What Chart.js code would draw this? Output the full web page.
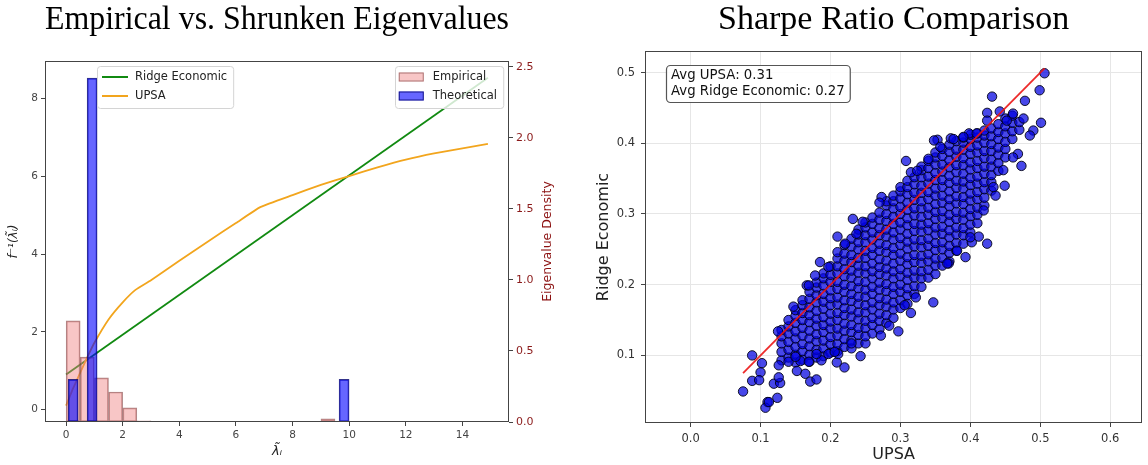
<!DOCTYPE html>
<html>
<head>
<meta charset="utf-8">
<script src="https://cdn.jsdelivr.net/npm/chart.js@4.4.1/dist/chart.umd.min.js"></script>
<style>
  html, body { margin: 0; padding: 0; background: #fff; }
  #wrap { position: relative; width: 1148px; height: 465px; overflow: hidden; }
  #eigBox { position: absolute; left: 0; top: 0; }
  #sharpeBox { position: absolute; left: 578px; top: 0; }
</style>
</head>
<body>
<div id="wrap">
  <div id="eigBox"><canvas id="eig" width="570" height="465"></canvas></div>
  <div id="sharpeBox"><canvas id="sharpe" width="570" height="465"></canvas></div>
</div>
<script>
// ── Left panel: eigenvalue histograms (right axis) + shrinkage curves (left axis) ──
const empiricalBins    = [0.25, 0.75, 1.25, 1.75, 2.25, 2.75, 6.75, 7.75, 8.25, 8.75, 9.25, 10.25, 10.75, 11.25, 11.75, 12.75, 13.25, 13.75, 14.75];
const empiricalDensity = [0.711, 0.457, 0.31, 0.211, 0.099, 0.008, 0.005, 0.005, 0.004, 0.004, 0.022, 0.004, 0.004, 0.004, 0.004, 0.005, 0.005, 0.005, 0.005];
const theoreticalBins    = [0.25, 0.92, 9.82];
const theoreticalDensity = [0.30, 2.42, 0.30];

const ridgeX = [0, 14.9];
const ridgeY = [0.9, 8.54];
const upsaX = [0, 0.25, 0.5, 0.75, 1.0, 1.5, 2.0, 2.45, 3.0, 4.0, 5.0, 6.0, 6.86, 8.0, 9.0, 10.0, 11.0, 12.0, 13.0, 14.0, 14.9];
const upsaY = [0.1, 0.55, 0.95, 1.35, 1.72, 2.32, 2.76, 3.08, 3.33, 3.83, 4.32, 4.8, 5.21, 5.52, 5.78, 6.01, 6.23, 6.43, 6.59, 6.72, 6.84];

// ── Right panel: per-sample Sharpe ratios ──
// dense core, one row per UPSA value: [upsa, ridge, ridge, ...]
const cloudColumns = [
  [0.13, .093, .105, .117, .127, .136],
  [0.14, .097, .108, .119, .131, .141, .150],
  [0.15, .090, .101, .112, .124, .134, .146, .156, .164],
  [0.16, .094, .106, .116, .128, .139, .150, .160, .171, .178],
  [0.17, .091, .101, .113, .124, .135, .147, .157, .168, .180, .190],
  [0.18, .097, .108, .120, .130, .142, .152, .163, .175, .185, .196, .203],
  [0.19, .099, .110, .121, .133, .143, .154, .166, .176, .187, .199, .209, .216],
  [0.20, .104, .116, .126, .138, .148, .159, .171, .181, .192, .204, .214, .226],
  [0.21, .106, .116, .128, .138, .150, .160, .172, .182, .194, .204, .216, .226, .237, .246],
  [0.22, .112, .123, .135, .145, .157, .167, .178, .190, .200, .212, .222, .234, .244, .256],
  [0.23, .110, .121, .133, .143, .155, .165, .177, .187, .198, .210, .220, .232, .242, .254, .265],
  [0.24, .117, .129, .139, .151, .161, .173, .183, .195, .205, .217, .227, .238, .250, .260, .271, .278],
  [0.25, .117, .127, .139, .149, .161, .171, .183, .193, .204, .216, .226, .238, .248, .260, .270, .281, .288],
  [0.26, .131, .143, .153, .165, .175, .187, .197, .209, .219, .230, .242, .252, .264, .274, .286, .295],
  [0.27, .137, .149, .159, .171, .181, .193, .203, .215, .225, .236, .248, .258, .270, .280, .292, .302],
  [0.28, .146, .157, .169, .179, .191, .201, .213, .223, .234, .246, .256, .268, .278, .290, .300, .312, .318],
  [0.29, .153, .165, .175, .187, .197, .209, .219, .230, .242, .252, .264, .274, .286, .296, .308, .318, .326],
  [0.30, .167, .178, .190, .200, .212, .222, .234, .244, .256, .266, .278, .288, .300, .310, .322, .332, .338],
  [0.31, .173, .185, .195, .207, .217, .229, .239, .251, .261, .272, .284, .294, .306, .316, .328, .338, .347],
  [0.32, .187, .198, .210, .220, .232, .242, .254, .264, .276, .286, .298, .308, .320, .330, .342, .352],
  [0.33, .197, .209, .219, .231, .241, .253, .263, .275, .285, .296, .308, .318, .330, .340, .352, .362, .367],
  [0.34, .210, .221, .233, .243, .255, .265, .277, .287, .299, .309, .321, .331, .343, .353, .365, .375],
  [0.35, .215, .227, .237, .249, .259, .271, .281, .293, .303, .314, .326, .336, .348, .358, .370, .380, .387],
  [0.36, .227, .238, .250, .260, .272, .282, .294, .304, .316, .326, .338, .348, .360, .370, .382, .392],
  [0.37, .233, .245, .255, .267, .277, .289, .299, .311, .321, .332, .344, .354, .366, .376, .388, .398],
  [0.38, .248, .259, .271, .281, .293, .303, .315, .325, .337, .347, .359, .369, .381, .391, .403],
  [0.39, .258, .270, .280, .292, .302, .314, .324, .336, .346, .357, .369, .379, .391, .401, .408],
  [0.40, .274, .285, .297, .307, .319, .329, .341, .351, .363, .373, .385, .395, .406, .412],
  [0.41, .287, .299, .309, .321, .331, .343, .353, .365, .375, .387, .397, .408, .414],
  [0.42, .312, .323, .335, .345, .357, .367, .379, .389, .401, .411, .418],
  [0.43, .333, .345, .355, .367, .377, .389, .399, .410, .421],
  [0.44, .361, .372, .384, .394, .406, .416, .427],
  [0.45, .380, .392, .402, .414, .424, .435],
  [0.46, .406, .417, .429, .439],
  [0.47, .419, .430],
];
// scattered points around the core: [upsa, ridge]
const strayPoints = [
  [0.075, 0.049], [0.088, 0.100], [0.102, 0.089], [0.100, 0.076], [0.088, 0.064], [0.098, 0.065],
  [0.110, 0.034], [0.107, 0.026], [0.124, 0.040], [0.119, 0.060], [0.128, 0.061], [0.126, 0.069],
  [0.152, 0.078], [0.164, 0.074], [0.171, 0.063], [0.180, 0.066], [0.220, 0.083], [0.209, 0.090],
  [0.243, 0.099], [0.272, 0.128], [0.297, 0.134], [0.315, 0.160], [0.126, 0.086], [0.140, 0.091],
  [0.157, 0.092], [0.197, 0.102], [0.211, 0.102], [0.125, 0.134], [0.147, 0.169], [0.166, 0.199],
  [0.185, 0.232], [0.210, 0.268], [0.232, 0.293], [0.246, 0.289], [0.112, 0.034],
  [0.187, 0.093], [0.206, 0.105], [0.230, 0.117], [0.284, 0.142], [0.150, 0.098], [0.169, 0.091],
  [0.180, 0.102], [0.178, 0.213], [0.197, 0.225], [0.169, 0.199], [0.221, 0.258], [0.237, 0.272],
  [0.506, 0.499], [0.499, 0.475], [0.478, 0.460], [0.431, 0.466], [0.501, 0.429], [0.490, 0.418],
  [0.476, 0.435], [0.461, 0.442], [0.424, 0.443], [0.442, 0.445], [0.485, 0.411], [0.468, 0.385],
  [0.473, 0.368], [0.449, 0.340], [0.436, 0.326], [0.424, 0.258], [0.402, 0.260], [0.412, 0.268],
  [0.369, 0.230], [0.381, 0.248], [0.308, 0.375], [0.353, 0.405], [0.348, 0.404], [0.372, 0.407],
  [0.398, 0.414], [0.315, 0.359], [0.324, 0.361], [0.273, 0.324], [0.270, 0.316], [0.347, 0.175],
  [0.322, 0.182], [0.306, 0.171],
  [0.357, 0.395], [0.340, 0.378], [0.376, 0.406], [0.390, 0.409], [0.409, 0.414], [0.424, 0.432],
  [0.452, 0.432], [0.400, 0.267], [0.419, 0.305], [0.433, 0.338], [0.447, 0.362], [0.461, 0.380],
  [0.393, 0.239], [0.367, 0.230],
];
const diagEnds = [0.075, 0.506];   // y = x reference line
const avgUpsa = 0.31;
const avgRidge = 0.27;

Chart.defaults.font.family = '"DejaVu Sans", sans-serif';
Chart.defaults.color = '#333';

const pairs = (xs, ys) => xs.map((x, i) => ({ x, y: ys[i] }));

// matplotlib-style box around the plot area
const framePlugin = {
  id: 'frame',
  afterDraw(chart) {
    const { ctx, chartArea: a } = chart;
    ctx.save();
    ctx.strokeStyle = '#444';
    ctx.lineWidth = 1;
    ctx.strokeRect(Math.round(a.left) + 0.5, Math.round(a.top) + 0.5,
      Math.round(a.right - a.left) - 1, Math.round(a.bottom - a.top) - 1);
    ctx.restore();
  }
};

function drawLegendBox(ctx, x, y, items, alignRight) {
  const rowH = 19;
  ctx.save();
  ctx.font = '11.5px "DejaVu Sans"';
  const textW = Math.max(...items.map((it) => ctx.measureText(it.label).width));
  const w = 38 + textW + 6;
  const h = items.length * rowH + 4;
  if (alignRight) x -= w;
  ctx.fillStyle = 'rgba(255,255,255,0.8)';
  ctx.strokeStyle = '#d4d4d4';
  ctx.lineWidth = 1;
  ctx.beginPath();
  ctx.roundRect(Math.round(x) + 0.5, Math.round(y) + 0.5, w, h, 3);
  ctx.fill();
  ctx.stroke();
  ctx.textBaseline = 'middle';
  items.forEach((it, i) => {
    const cy = y + 11 + i * rowH;
    if (it.kind === 'line') {
      ctx.strokeStyle = it.color;
      ctx.lineWidth = 2;
      ctx.beginPath();
      ctx.moveTo(x + 5, cy);
      ctx.lineTo(x + 31, cy);
      ctx.stroke();
    } else {
      ctx.fillStyle = '#fff';
      ctx.fillRect(x + 4, cy - 4.5, 25, 9);
      ctx.fillStyle = it.color;
      ctx.fillRect(x + 4, cy - 4.5, 25, 9);
      ctx.strokeStyle = it.edge;
      ctx.lineWidth = 1;
      ctx.strokeRect(x + 4.5, cy - 4, 24, 8);
    }
    ctx.fillStyle = '#222';
    ctx.fillText(it.label, x + 38, cy + 0.5);
  });
  ctx.restore();
}

const eigLegends = {
  id: 'eigLegends',
  afterDraw(chart) {
    const { ctx, chartArea: a } = chart;
    const ds = chart.data.datasets;
    const lines = ds.filter((d) => d.type === 'line').map((d) => ({ kind: 'line', label: d.label, color: d.borderColor }));
    const bars = ds.filter((d) => d.type === 'bar').map((d) => ({ kind: 'bar', label: d.label, color: d.backgroundColor, edge: d.borderColor }));
    drawLegendBox(ctx, a.left + 52, a.top + 5, lines, false);
    drawLegendBox(ctx, a.right - 6, a.top + 5, bars, true);

    // right axis title reads bottom-to-top, so draw it by hand
    ctx.save();
    ctx.translate(a.right + 39, (a.top + a.bottom) / 2);
    ctx.rotate(-Math.PI / 2);
    ctx.font = '12.5px "DejaVu Sans"';
    ctx.fillStyle = '#8b1010';
    ctx.textAlign = 'center';
    ctx.textBaseline = 'middle';
    ctx.fillText('Eigenvalue Density', 0, 0);
    ctx.restore();
  }
};

const tickMarks = { display: true, offset: false, drawOnChartArea: false, drawTicks: true, tickLength: 4, tickColor: '#444' };

new Chart(document.getElementById('eig'), {
  type: 'bar',
  data: {
    datasets: [
      {
        type: 'bar', label: 'Empirical', yAxisID: 'y1',
        data: pairs(empiricalBins, empiricalDensity),
        backgroundColor: 'rgba(240,128,128,0.45)', borderColor: 'rgba(140,80,80,0.7)',
        borderWidth: 1, borderSkipped: false, barThickness: 14, grouped: false, order: 1,
      },
      {
        type: 'bar', label: 'Theoretical', yAxisID: 'y1',
        data: pairs(theoreticalBins, theoreticalDensity),
        backgroundColor: 'rgba(0,0,255,0.6)', borderColor: 'rgba(0,0,110,0.8)',
        borderWidth: 1, borderSkipped: false, barThickness: 10, grouped: false, order: 0,
      },
      {
        type: 'line', label: 'Ridge Economic', yAxisID: 'y',
        data: pairs(ridgeX, ridgeY), borderColor: '#118a11', borderWidth: 1.8,
        pointRadius: 0, tension: 0, order: 3,
      },
      {
        type: 'line', label: 'UPSA', yAxisID: 'y',
        data: pairs(upsaX, upsaY), borderColor: '#f2a51d', borderWidth: 1.8,
        pointRadius: 0, tension: 0.15, order: 2,
      },
    ],
  },
  options: {
    responsive: false,
    animation: false,
    events: [],
    layout: { padding: 0 },
    plugins: {
      legend: { display: false },
      tooltip: { enabled: false },
      title: {
        display: true, text: 'Empirical vs. Shrunken Eigenvalues', fullSize: false,
        color: '#000', font: { family: '"Liberation Serif", serif', size: 34, weight: 'normal', lineHeight: 1.2 },
        padding: { top: 0, bottom: 20.2 },
      },
    },
    scales: {
      x: {
        type: 'linear', min: -0.745, max: 15.645, offset: false,
        afterFit: (s) => { s.height = 43; },
        ticks: { stepSize: 2, includeBounds: false, font: { size: 10.5 }, color: '#444', padding: 3, maxRotation: 0, autoSkip: false },
        grid: tickMarks, border: { display: false },
        title: { display: true, text: 'λ̃ᵢ', font: { size: 13, style: 'italic' }, color: '#222', padding: { top: 0, bottom: 6 } },
      },
      y: {
        position: 'left', min: -0.32, max: 8.97,
        ticks: { stepSize: 2, includeBounds: false, font: { size: 10.5 }, color: '#444', padding: 3 },
        afterFit: (s) => { s.width = 45; },
        grid: tickMarks, border: { display: false },
        title: { display: true, text: 'f⁻¹(λ̃ᵢ)', font: { size: 12, style: 'italic' }, color: '#222', padding: { top: 7, bottom: 0 } },
      },
      y1: {
        position: 'right', min: 0, max: 2.54,
        ticks: { stepSize: 0.5, includeBounds: false, font: { size: 11 }, color: '#8b1a1a', padding: 3,
          callback: (v) => v.toFixed(1) },
        afterFit: (s) => { s.width = 61; },
        grid: tickMarks, border: { display: false },
      },
    },
  },
  plugins: [framePlugin, eigLegends],
});

// ── Right panel ──
const sharpePoints = [];
cloudColumns.forEach(([u, ...rs]) => rs.forEach((r) => sharpePoints.push({ x: u, y: r })));
strayPoints.forEach(([u, r]) => sharpePoints.push({ x: u, y: r }));

const avgBox = {
  id: 'avgBox',
  afterDatasetsDraw(chart) {
    const { ctx, chartArea: a } = chart;
    const lines = [`Avg UPSA: ${avgUpsa.toFixed(2)}`, `Avg Ridge Economic: ${avgRidge.toFixed(2)}`];
    ctx.save();
    ctx.font = '13.3px "DejaVu Sans"';
    const w = Math.max(...lines.map((t) => ctx.measureText(t).width)) + 10;
    const x = a.left + 21, y = a.top + 14, h = 37;
    ctx.fillStyle = 'rgba(255,255,255,0.85)';
    ctx.strokeStyle = '#555';
    ctx.lineWidth = 1.2;
    ctx.beginPath();
    ctx.roundRect(x + 0.5, y + 0.5, w, h, 4);
    ctx.fill();
    ctx.stroke();
    ctx.fillStyle = '#111';
    ctx.textBaseline = 'middle';
    lines.forEach((t, i) => ctx.fillText(t, x + 5, y + 10.5 + i * 15.7));
    ctx.restore();
  }
};

const sharpeGrid = { color: '#e6e6e6', lineWidth: 1, drawTicks: true, tickLength: 4, tickColor: '#444' };

new Chart(document.getElementById('sharpe'), {
  type: 'scatter',
  data: {
    datasets: [
      {
        type: 'scatter', label: 'samples', data: sharpePoints,
        backgroundColor: 'rgba(0,0,225,0.72)', borderColor: 'rgba(0,0,20,0.9)',
        borderWidth: 1, pointRadius: 4.7, order: 2,
      },
      {
        type: 'line', label: 'y = x', data: pairs(diagEnds, diagEnds),
        borderColor: 'rgba(235,20,20,0.9)', borderWidth: 1.8, pointRadius: 0, showLine: true, order: 1,
      },
    ],
  },
  options: {
    responsive: false,
    animation: false,
    events: [],
    layout: { padding: { right: 1 } },
    plugins: {
      legend: { display: false },
      tooltip: { enabled: false },
      title: {
        display: true, text: 'Sharpe Ratio Comparison', fullSize: false,
        color: '#000', font: { family: '"Liberation Serif", serif', size: 34, weight: 'normal', lineHeight: 1.2 },
        padding: { top: 0, bottom: 10.2 },
      },
    },
    scales: {
      x: {
        type: 'linear', min: -0.0652, max: 0.6458,
        ticks: { stepSize: 0.1, includeBounds: false, font: { size: 11.5 }, color: '#333', padding: 5,
          maxRotation: 0, callback: (v) => v.toFixed(1) },
        afterFit: (s) => { s.height = 42; },
        grid: sharpeGrid, border: { display: false },
        title: { display: true, text: 'UPSA', font: { size: 16 }, color: '#222', padding: { top: 0, bottom: 1 } },
      },
      y: {
        min: 0.0044, max: 0.5305,
        ticks: { stepSize: 0.1, includeBounds: false, font: { size: 11.5 }, color: '#333', padding: 6,
          callback: (v) => v.toFixed(1) },
        afterFit: (s) => { s.width = 67; },
        grid: sharpeGrid, border: { display: false },
        title: { display: true, text: 'Ridge Economic', font: { size: 16 }, color: '#222', padding: { top: 16, bottom: 0 } },
      },
    },
  },
  plugins: [framePlugin, avgBox],
});
</script>
</body>
</html>
